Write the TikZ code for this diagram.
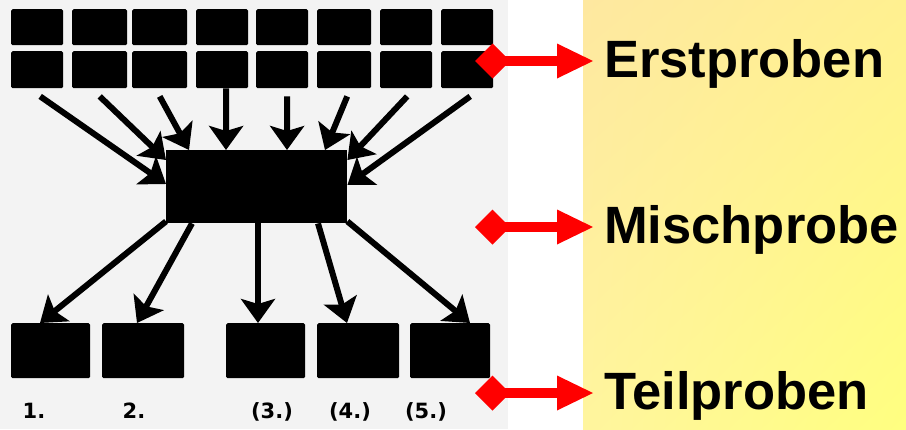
\documentclass[tikz,border=0pt]{standalone}
\usepackage{fontspec}
\setmainfont{Liberation Sans}
\newfontfamily\numfont{DejaVu Sans}
\usetikzlibrary{arrows.meta,calc,shadings}
\definecolor{bggrey}{HTML}{F3F3F3}
\definecolor{ylUL}{HTML}{FEE8A0}
\definecolor{ylUR}{HTML}{FFF090}
\definecolor{ylLL}{HTML}{FFF59E}
\definecolor{ylLR}{HTML}{FFFF80}
\definecolor{redarrow}{HTML}{FF0000}
\begin{document}
\begin{tikzpicture}[x=1pt,y=-1pt,
  sample/.style={fill=black,draw=none,rounded corners=1.5pt,inner sep=0pt,anchor=north west},
  flow/.style={line width=6pt,-{Stealth[length=24pt 0 0,width=34pt 0 0,inset=5pt 0 0]}},
  lab/.style={font=\fontsize{52.5}{60}\selectfont\bfseries,inner sep=0pt,anchor=base west},
  num/.style={font=\numfont\bfseries\fontsize{21}{24}\selectfont,inner sep=0pt,anchor=base},
  redmark/.style={fill=redarrow,draw=none}]
\useasboundingbox (0,0) rectangle (906,429);
\fill[bggrey] (0,0) rectangle (508,429);
\fill[white] (508,0) rectangle (583,429);
\shade[upper left=ylUL,upper right=ylUR,lower left=ylLL,lower right=ylLR] (583,0) rectangle (906,429);
% top samples (two rows)
\foreach \i/\x/\w in {1/11/52,2/72/55,3/132/55,4/196/52,5/256/52,6/317/54,7/380/52,8/441/52}{
  \node[sample,minimum width=\w pt,minimum height=36pt] (t\i) at (\x,9) {};
  \node[sample,minimum width=\w pt,minimum height=37pt] (s\i) at (\x,51) {};
}
% mixed sample
\node[sample,rounded corners=0pt,minimum width=181pt,minimum height=73pt] (m) at (166,150) {};
% sub samples
\node[sample,minimum width=79pt,minimum height=55pt] (p1) at (11,323) {};
\node[sample,minimum width=82pt,minimum height=55pt] (p2) at (102,323) {};
\node[sample,minimum width=79pt,minimum height=55pt] (p3) at (226,323) {};
\node[sample,minimum width=82pt,minimum height=55pt] (p4) at (317,323) {};
\node[sample,minimum width=80pt,minimum height=55pt] (p5) at (410,323) {};
% arrows top -> mix
\draw[flow] ([xshift=3pt,yshift=-8pt]s1.south) -- ($(m.north west)+(0,34)$);
\draw[flow] ([xshift=0pt,yshift=-8pt]s2.south) -- ($(m.north west)+(0,10)$);
\draw[flow] ([xshift=0pt,yshift=-8pt]s3.south) -- ($(m.north west)+(23,0)$);
\draw[flow] ([xshift=4pt]s4.south) -- ($(m.north west)+(60,0)$);
\draw[flow] ([xshift=5pt,yshift=-8pt]s5.south) -- ($(m.north west)+(121,0)$);
\draw[flow] ([xshift=3pt,yshift=-8pt]s6.south) -- ($(m.north west)+(159,0)$);
\draw[flow] ([xshift=1pt,yshift=-8pt]s7.south) -- ($(m.north east)+(0,10)$);
\draw[flow] ([xshift=3pt,yshift=-8pt]s8.south) -- ($(m.north east)+(0,35)$);
% arrows mix -> sub samples
\draw[flow] ($(m.south west)+(0,-2)$) -- ($(p1.north west)+(29,0)$);
\draw[flow] ($(m.south west)+(26,0)$) -- ($(p2.north west)+(35,0)$);
\draw[flow] ($(m.south west)+(92,0)$) -- ($(p3.north west)+(32,0)$);
\draw[flow] ($(m.south west)+(152,0)$) -- ($(p4.north west)+(30,0)$);
\draw[flow] ($(m.south east)+(0,-2)$) -- ($(p5.north west)+(60,0)$);
% numbers
\node[num] (n1) at (34,418) {1.};
\node[num] (n2) at (134,418) {2.};
\node[num] (n3) at (272,418) {(3.)};
\node[num] (n4) at (350,418) {(4.)};
\node[num] (n5) at (426,418) {(5.)};
% red markers
\foreach \yy in {61,227,393}{
  \fill[redmark] (475,\yy) -- (492.5,\yy-17.5) -- (510,\yy) -- (492.5,\yy+17.5) -- cycle;
  \fill[redmark] (505,\yy-5) rectangle (560,\yy+5);
  \fill[redmark] (557,\yy-17.5) -- (593,\yy) -- (557,\yy+17.5) -- cycle;
}
% labels
\node[lab] (l1) at (604,77) {Erstproben};
\node[lab] (l2) at (604,243) {Mischprobe};
\node[lab] (l3) at (604,409) {Teilproben};
\end{tikzpicture}
\end{document}
